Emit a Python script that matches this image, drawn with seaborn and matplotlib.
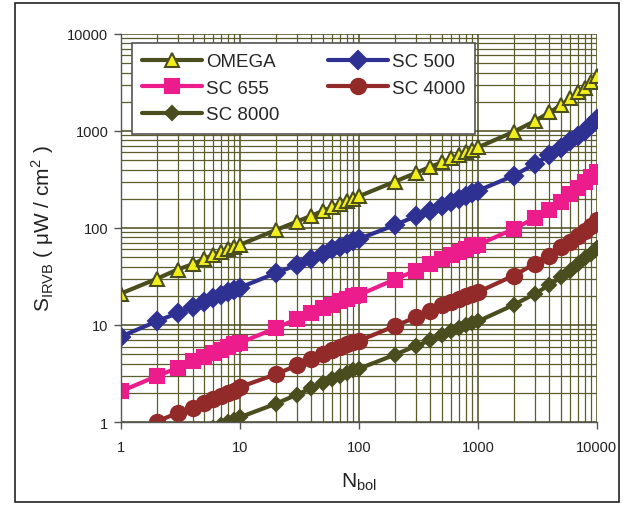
import numpy as np
import pandas as pd
import matplotlib
matplotlib.use('Agg')
import matplotlib.pyplot as plt
import seaborn as sns
from matplotlib.ticker import LogLocator, FixedLocator, NullFormatter
from matplotlib.patches import Rectangle

sns.set_theme(style='white')
plt.rcParams['font.family'] = ['Liberation Sans', 'DejaVu Sans']

# N_bol sample points (1..10, 20..100, 200..1000, 2000..10000)
n_bol = [1, 2, 3, 4, 5, 6, 7, 8, 9, 10,
         20, 30, 40, 50, 60, 70, 80, 90, 100,
         200, 300, 400, 500, 600, 700, 800, 900, 1000,
         2000, 3000, 4000, 5000, 6000, 7000, 8000, 9000, 10000]

omega = [21.1, 29.9, 37.3, 42.3, 48, 53, 57, 61, 64, 67,
         95, 116, 134, 150, 165, 178, 190, 200, 212,
         300, 368, 428, 474, 521, 560, 600, 640, 676,
         980, 1262, 1550, 1845, 2160, 2490, 2800, 3200, 3640]
sc500 = [7.6, 10.9, 13.3, 15.3, 17.2, 18.8, 20.3, 21.7, 23, 24.3,
         34.2, 41.6, 48, 54.5, 60, 64, 69, 73, 77,
         107, 132, 151, 170, 185, 200, 215, 228, 242,
         346, 456, 564, 671, 792, 892, 1004, 1148, 1324]
sc655 = [2.07, 2.97, 3.62, 4.21, 4.7, 5.1, 5.5, 5.9, 6.3, 6.55,
         9.27, 11.5, 13.2, 14.9, 16.2, 17.5, 18.7, 19.9, 20.4,
         29.4, 36.4, 42.6, 48, 52.5, 57, 61, 65, 66.8,
         97.7, 126, 154, 187, 224, 256, 295, 332, 380]
sc4000 = [0.72, 1.01, 1.24, 1.39, 1.57, 1.72, 1.85, 1.98, 2.1, 2.29,
          3.1, 3.83, 4.42, 5.0, 5.5, 5.9, 6.3, 6.7, 6.87,
          9.73, 12.0, 14.1, 15.9, 17.3, 18.6, 19.8, 21, 21.8,
          32.3, 42.6, 51.9, 63.2, 72.3, 82, 93.8, 106, 122]
sc8000 = [0.35, 0.5, 0.61, 0.7, 0.79, 0.86, 0.93, 0.99, 1.06, 1.12,
          1.54, 1.91, 2.24, 2.54, 2.8, 3.0, 3.2, 3.4, 3.54,
          4.93, 6.06, 6.98, 7.92, 8.6, 9.3, 10, 10.6, 10.9,
          16.1, 20.9, 25.9, 31, 36.4, 42.6, 48.7, 54, 61.8]

series = ['OMEGA', 'SC 500', 'SC 655', 'SC 4000', 'SC 8000']
values = [omega, sc500, sc655, sc4000, sc8000]

df = pd.concat([pd.DataFrame({'N': n_bol, 'S': v, 'series': s})
                for s, v in zip(series, values)], ignore_index=True)

line_colors = {'OMEGA': '#4a4e1e', 'SC 500': '#2e3192', 'SC 655': '#ec1c8c',
               'SC 4000': '#922a2a', 'SC 8000': '#4a4e1e'}
face_colors = {'OMEGA': '#f2ee1a', 'SC 500': '#2e3192', 'SC 655': '#ec1c8c',
               'SC 4000': '#922a2a', 'SC 8000': '#4a4e1e'}
markers = {'OMEGA': '^', 'SC 500': 'D', 'SC 655': 's', 'SC 4000': 'o', 'SC 8000': 'D'}
msizes = {'OMEGA': 10, 'SC 500': 9, 'SC 655': 10, 'SC 4000': 11, 'SC 8000': 7}

fig = plt.figure(figsize=(6.23, 5.06), dpi=100)
ax = fig.add_axes([0.194, 0.164, 0.764, 0.767])

for s in series:
    d = df[df['series'] == s]
    sns.lineplot(data=d, x='N', y='S', ax=ax, color=line_colors[s], lw=3,
                 marker=markers[s], markersize=msizes[s],
                 markerfacecolor=face_colors[s],
                 markeredgecolor=line_colors[s] if s == 'OMEGA' else face_colors[s],
                 markeredgewidth=1.5, label=s, clip_on=True)

ax.set_xscale('log')
ax.set_yscale('log')
ax.set_xlim(1, 10000)
ax.set_ylim(1, 10000)

ax.xaxis.set_major_locator(FixedLocator([1, 10, 100, 1000, 10000]))
ax.yaxis.set_major_locator(FixedLocator([1, 10, 100, 1000, 10000]))
ax.set_xticklabels(['1', '10', '100', '1000', '10000'])
ax.set_yticklabels(['1', '10', '100', '1000', '10000'])
ax.xaxis.set_minor_locator(LogLocator(base=10, subs=np.arange(2, 10)))
ax.yaxis.set_minor_locator(LogLocator(base=10, subs=np.arange(2, 10)))
ax.xaxis.set_minor_formatter(NullFormatter())
ax.yaxis.set_minor_formatter(NullFormatter())

ax.grid(which='major', color='#4a4a1c', lw=1.1)
ax.grid(which='minor', color='#5c5c2c', lw=0.9)
ax.set_axisbelow(True)

ax.tick_params(which='major', direction='out', length=5, width=1, color='#555555',
               labelsize=10.5, labelcolor='#222222', bottom=True, left=True, pad=8)
ax.tick_params(which='minor', length=0)
ax.tick_params(axis='y', pad=4)

for sp in ['top', 'right']:
    ax.spines[sp].set_visible(False)
for sp in ['left', 'bottom']:
    ax.spines[sp].set_color('#555555')
    ax.spines[sp].set_linewidth(1)

ax.set_xlabel(r'N$_{\mathregular{bol}}$', fontsize=15, labelpad=12, color='#222222')
ax.set_ylabel(r'S$_{\mathregular{IRVB}}$ ( μW / cm$^{\mathregular{2}}$ )',
              fontsize=15, labelpad=8, color='#222222')

# row-major legend order: OMEGA, SC 500 / SC 655, SC 4000 / SC 8000
handles, labels = ax.get_legend_handles_labels()
order = ['OMEGA', 'SC 655', 'SC 8000', 'SC 500', 'SC 4000']
hmap = dict(zip(labels, handles))
leg = ax.legend([hmap[k] for k in order], order, loc='upper left',
                bbox_to_anchor=(0.023, 0.977), borderaxespad=0, ncol=2, fontsize=13.5,
                frameon=True, fancybox=False, framealpha=1, edgecolor='#555555',
                handlelength=3.2, handletextpad=0.2, columnspacing=2.6,
                labelspacing=0.5, borderpad=0.55)
leg.get_frame().set_linewidth(1.2)

fig.patches.append(Rectangle((0.024, 0.006), 0.97, 0.986, transform=fig.transFigure,
                             fill=False, edgecolor='#222222', lw=1.2))

fig.savefig('out.png', dpi=100)
